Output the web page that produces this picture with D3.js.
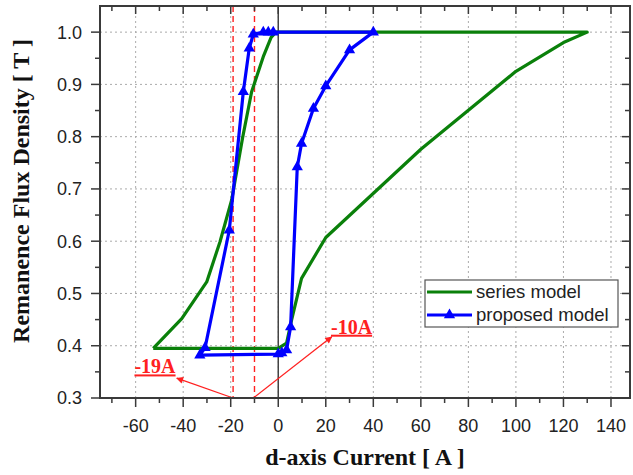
<!DOCTYPE html>
<html>
<head>
<meta charset="utf-8">
<script src="https://cdn.jsdelivr.net/npm/d3@7"></script>
<style>
  html, body { margin: 0; padding: 0; background: #fff; }
  svg { display: block; }
</style>
</head>
<body>
<svg id="chart" width="633" height="475"></svg>
<script>
// ---- data ----
const seriesX = [-52.6, -40.6, -30.1, -24.5, -19.6, -15, -11.2, -6.3, -3, -1, 130, 120, 100, 60, 20, 9.8, 5.6, 3.5, 0, -52.6];
const seriesY = [0.395, 0.452, 0.522, 0.599, 0.679, 0.798, 0.886, 0.953, 0.99, 1.0, 1.0, 0.98, 0.925, 0.776, 0.607, 0.529, 0.449, 0.405, 0.395, 0.395];

const proposedX = [-2.1, 40, 30, 20, 14.8, 9.8, 8, 5.2, 3.5, 1.5, 0, -33, -30.8, -20.6, -14.7, -12.2, -10.5, -6.3, -4.2, -2.1];
const proposedY = [1.0, 1.0, 0.966, 0.897, 0.854, 0.787, 0.742, 0.436, 0.392, 0.386, 0.384, 0.382, 0.396, 0.621, 0.886, 0.969, 0.996, 1.0, 1.0, 1.0];

const xTicks = [-60, -40, -20, 0, 20, 40, 60, 80, 100, 120, 140];
const yTicks = [0.3, 0.4, 0.5, 0.6, 0.7, 0.8, 0.9, 1.0];
const xMinor = [-70, -50, -30, -10, 10, 30, 50, 70, 90, 110, 130];
const yMinor = [0.35, 0.45, 0.55, 0.65, 0.75, 0.85, 0.95];

const markerLines = [-19, -10];
const annotLabels = ["-19A", "-10A"];
const annotFrom = [[-19, 0.3], [-10.5, 0.3]];
const annotTo = [[-42.7, 0.338], [22.5, 0.417]];
const annotText = [[-60.5, 0.347], [22.2, 0.423]];

const legendNames = ["series model", "proposed model"];

// ---- layout ----
const svg = d3.select("#chart");
const L = 100, R = 630, T = 6, B = 398;
const x = d3.scaleLinear().domain([-75, 148]).range([L, R]);
const y = d3.scaleLinear().domain([0.3, 1.05]).range([B, T]);

const frameColor = "#3a3a3a";

// grid
const grid = svg.append("g");
grid.selectAll("line.gx").data(xTicks).join("line")
  .attr("x1", d => x(d)).attr("x2", d => x(d)).attr("y1", T).attr("y2", B)
  .attr("stroke", "#aaa").attr("stroke-width", 1).attr("stroke-dasharray", "2,3");
grid.selectAll("line.gy").data(yTicks.filter(d => d > 0.3)).join("line")
  .attr("x1", L).attr("x2", R).attr("y1", d => y(d)).attr("y2", d => y(d))
  .attr("stroke", "#aaa").attr("stroke-width", 1).attr("stroke-dasharray", "2,3");

// zero line
svg.append("line").attr("x1", x(0)).attr("x2", x(0)).attr("y1", T).attr("y2", B)
  .attr("stroke", "#444").attr("stroke-width", 1.5);

// red dashed lines
svg.selectAll("line.red").data(markerLines).join("line")
  .attr("x1", d => x(d)).attr("x2", d => x(d)).attr("y1", T).attr("y2", B)
  .attr("stroke", "#ff2020").attr("stroke-width", 1.4).attr("stroke-dasharray", "6,4");

// series
const seriesData = seriesX.map((v, i) => [v, seriesY[i]]);
const proposedData = proposedX.map((v, i) => [v, proposedY[i]]);
const line = d3.line().x(d => x(d[0])).y(d => y(d[1]));

svg.append("path").attr("d", line(seriesData)).attr("fill", "none")
  .attr("stroke", "#0a800a").attr("stroke-width", 3.2).attr("stroke-linejoin", "round");

svg.append("path").attr("d", line(proposedData)).attr("fill", "none")
  .attr("stroke", "#0000ff").attr("stroke-width", 3.2).attr("stroke-linejoin", "round");

const tri = d3.symbol().type(d3.symbolTriangle).size(55);
svg.selectAll("path.mk").data(proposedData.slice(0, -1)).join("path")
  .attr("d", tri).attr("transform", d => `translate(${x(d[0])},${y(d[1])})`)
  .attr("fill", "#0000ff");

// arrows
const defs = svg.append("defs");
defs.append("marker").attr("id", "ah").attr("viewBox", "0 0 10 10")
  .attr("refX", 9).attr("refY", 5).attr("markerWidth", 9).attr("markerHeight", 7)
  .attr("markerUnits", "userSpaceOnUse").attr("orient", "auto")
  .append("path").attr("d", "M0,0 L10,5 L0,10 Z").attr("fill", "#ff2020");

annotFrom.forEach((f, i) => {
  svg.append("line")
    .attr("x1", x(f[0])).attr("y1", y(f[1]))
    .attr("x2", x(annotTo[i][0])).attr("y2", y(annotTo[i][1]))
    .attr("stroke", "#ff2020").attr("stroke-width", 1.3).attr("marker-end", "url(#ah)");
  svg.append("text").attr("x", x(annotText[i][0])).attr("y", y(annotText[i][1]))
    .attr("font-family", "'Liberation Serif', 'Times New Roman', serif")
    .attr("font-weight", "bold").attr("font-size", 20).attr("fill", "#ff2020")
    .attr("text-decoration", "underline")
    .text(annotLabels[i]);
});

// frame
svg.append("rect").attr("x", L).attr("y", T).attr("width", R - L).attr("height", B - T)
  .attr("fill", "none").attr("stroke", frameColor).attr("stroke-width", 2);

// ticks
const tk = svg.append("g").attr("stroke", frameColor).attr("stroke-width", 1.5);
xTicks.forEach(d => {
  tk.append("line").attr("x1", x(d)).attr("x2", x(d)).attr("y1", B).attr("y2", B + 9);
  tk.append("line").attr("x1", x(d)).attr("x2", x(d)).attr("y1", T).attr("y2", T + 8);
});
xMinor.forEach(d => {
  tk.append("line").attr("x1", x(d)).attr("x2", x(d)).attr("y1", B).attr("y2", B + 5);
  tk.append("line").attr("x1", x(d)).attr("x2", x(d)).attr("y1", T).attr("y2", T + 5);
});
yTicks.forEach(d => {
  tk.append("line").attr("x1", L - 9).attr("x2", L).attr("y1", y(d)).attr("y2", y(d));
  tk.append("line").attr("x1", R - 8).attr("x2", R).attr("y1", y(d)).attr("y2", y(d));
});
yMinor.forEach(d => {
  tk.append("line").attr("x1", L - 5).attr("x2", L).attr("y1", y(d)).attr("y2", y(d));
  tk.append("line").attr("x1", R - 5).attr("x2", R).attr("y1", y(d)).attr("y2", y(d));
});

// tick labels
const sans = "'Liberation Sans', Arial, sans-serif";
svg.selectAll("text.xl").data(xTicks).join("text")
  .attr("x", d => x(d)).attr("y", 432).attr("text-anchor", "middle")
  .attr("font-family", sans).attr("font-size", 18).attr("fill", "#222")
  .text(d => String(d));
svg.selectAll("text.yl").data(yTicks).join("text")
  .attr("x", 82).attr("y", d => y(d)).attr("dy", "0.36em").attr("text-anchor", "end")
  .attr("font-family", sans).attr("font-size", 18).attr("fill", "#222")
  .text(d => d3.format(".1f")(d));

// axis titles
const serif = "'Liberation Serif', 'Times New Roman', serif";
svg.append("text").attr("x", (L + R) / 2).attr("y", 465).attr("text-anchor", "middle")
  .attr("font-family", serif).attr("font-weight", "bold").attr("font-size", 24).attr("fill", "#111")
  .text("d-axis Current [ A ]");
svg.append("text").attr("transform", `translate(29,${(T + B) / 2 - 11}) rotate(-90)`)
  .attr("text-anchor", "middle")
  .attr("font-family", serif).attr("font-weight", "bold").attr("font-size", 24).attr("fill", "#111")
  .text("Remanence Flux Density [ T ]");

// legend
const lg = svg.append("g");
lg.append("rect").attr("x", 425).attr("y", 280).attr("width", 193).attr("height", 47)
  .attr("fill", "#fff").attr("stroke", "#555").attr("stroke-width", 1.2);
const legColors = ["#0a800a", "#0000ff"];
legendNames.forEach((n, i) => {
  const yy = 292 + i * 23;
  lg.append("line").attr("x1", 427).attr("x2", 472).attr("y1", yy).attr("y2", yy)
    .attr("stroke", legColors[i]).attr("stroke-width", 3.2);
  if (i === 1) {
    lg.append("path").attr("d", tri).attr("transform", `translate(449.5,${yy})`).attr("fill", "#0000ff");
  }
  lg.append("text").attr("x", 476).attr("y", yy + 6).attr("font-family", sans)
    .attr("font-size", 18.5).attr("fill", "#222").text(n);
});
</script>
</body>
</html>
